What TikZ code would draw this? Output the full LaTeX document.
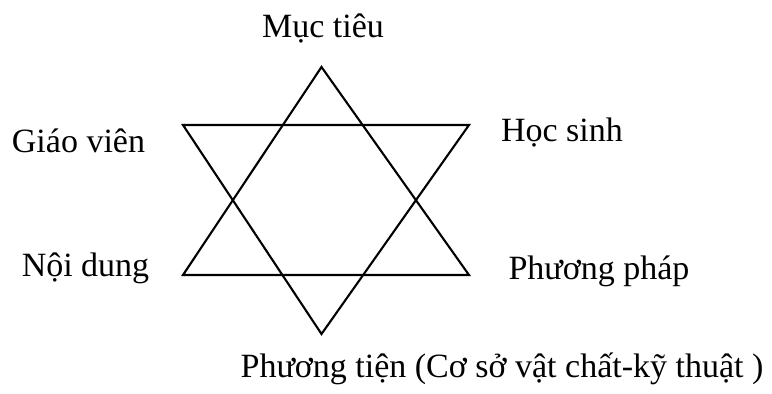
\documentclass[tikz,border=0pt]{standalone}
\usepackage{fontspec}
\setmainfont{Liberation Serif}
\begin{document}
\begin{tikzpicture}[x=1pt,y=-1pt,
  lbl/.style={font=\fontsize{34}{40}\selectfont, inner sep=0pt, anchor=base},
  edge/.style={draw=black, line width=2.1pt, line join=miter}]
\useasboundingbox (0,0) rectangle (772,394);
\coordinate (T) at (321.5,67);
\coordinate (B) at (321.5,334);
\coordinate (LT) at (183,125);
\coordinate (RT) at (469,125);
\coordinate (LB) at (183,275);
\coordinate (RB) at (469,275);
\draw[edge] (T) -- (LB) -- (RB) -- cycle;
\draw[edge] (LT) -- (RT) -- (B) -- cycle;
\node[lbl] (muctieu) at (323,37) {Mục tiêu};
\node[lbl] (giaovien) at (78.5,152.5) {Giáo viên};
\node[lbl] (hocsinh) at (562,141.5) {Học sinh};
\node[lbl] (noidung) at (85.5,276.5) {Nội dung};
\node[lbl] (phuongphap) at (599,279) {Phương pháp};
\node[lbl] (phuongtien) at (502,377) {Phương tiện (Cơ sở vật chất-kỹ thuật )};
\end{tikzpicture}
\end{document}
